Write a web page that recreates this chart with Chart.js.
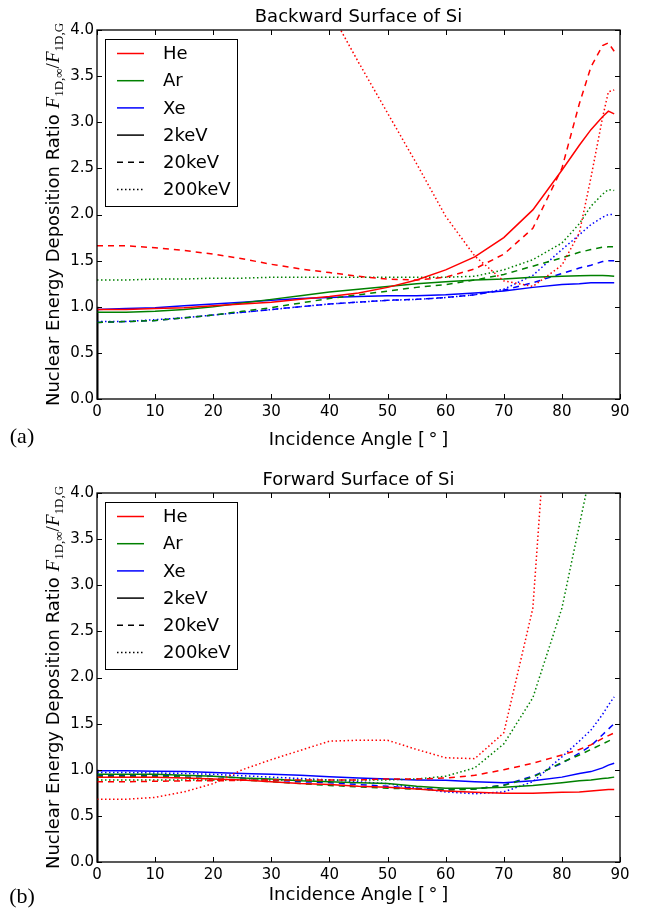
<!DOCTYPE html>
<html>
<head>
<meta charset="utf-8">
<script src="https://cdn.jsdelivr.net/npm/chart.js@4.4.1/dist/chart.umd.min.js"></script>
<style>
  html, body { margin: 0; padding: 0; background: #fff; }
  canvas { display: block; }
</style>
</head>
<body>
<canvas id="backChart" width="646" height="455"></canvas>
<canvas id="fwdChart" width="646" height="456"></canvas>
<script>
// Incidence angles (deg), shared by every curve
const angles = [0, 5, 10, 15, 20, 25, 30, 35, 40, 45, 50, 55, 60, 65, 70, 75, 80, 83, 85, 87, 88, 89];

// Backward surface of Si
const backHe2   = [0.97, 0.97, 0.98, 0.99, 1.01, 1.03, 1.05, 1.08, 1.11, 1.15, 1.21, 1.29, 1.40, 1.54, 1.75, 2.05, 2.48, 2.75, 2.92, 3.06, 3.12, 3.09];
const backHe20  = [1.66, 1.66, 1.64, 1.61, 1.57, 1.52, 1.46, 1.41, 1.37, 1.33, 1.30, 1.29, 1.32, 1.41, 1.57, 1.85, 2.50, 3.20, 3.60, 3.83, 3.86, 3.77];
const backHe200 = [null, null, null, null, null, null, null, null, 4.22, 3.65, 3.10, 2.55, 1.98, 1.55, 1.28, 1.22, 1.45, 1.80, 2.40, 3.05, 3.33, 3.35];
const backAr2   = [0.94, 0.94, 0.95, 0.97, 1.00, 1.04, 1.08, 1.12, 1.16, 1.19, 1.22, 1.25, 1.27, 1.29, 1.30, 1.32, 1.33, 1.335, 1.34, 1.34, 1.335, 1.33];
const backAr20  = [0.83, 0.84, 0.85, 0.88, 0.91, 0.95, 0.99, 1.04, 1.09, 1.13, 1.17, 1.21, 1.24, 1.29, 1.35, 1.44, 1.53, 1.59, 1.62, 1.645, 1.65, 1.65];
const backAr200 = [1.29, 1.29, 1.30, 1.30, 1.31, 1.31, 1.32, 1.32, 1.32, 1.32, 1.32, 1.32, 1.32, 1.33, 1.40, 1.51, 1.69, 1.90, 2.09, 2.22, 2.27, 2.26];
const backXe2   = [0.97, 0.98, 0.99, 1.01, 1.03, 1.05, 1.07, 1.09, 1.10, 1.11, 1.12, 1.12, 1.13, 1.15, 1.17, 1.21, 1.24, 1.25, 1.26, 1.26, 1.26, 1.26];
const backXe20  = [0.83, 0.84, 0.85, 0.88, 0.91, 0.94, 0.97, 1.00, 1.03, 1.05, 1.07, 1.08, 1.10, 1.13, 1.18, 1.26, 1.36, 1.42, 1.45, 1.49, 1.50, 1.50];
const backXe200 = [0.84, 0.84, 0.86, 0.88, 0.91, 0.94, 0.97, 1.00, 1.03, 1.05, 1.07, 1.08, 1.10, 1.13, 1.19, 1.34, 1.62, 1.78, 1.89, 1.97, 2.00, 2.00];

// Forward surface of Si
const fwdHe2   = [0.92, 0.92, 0.92, 0.91, 0.90, 0.89, 0.87, 0.85, 0.84, 0.82, 0.81, 0.79, 0.77, 0.755, 0.745, 0.745, 0.755, 0.76, 0.77, 0.78, 0.785, 0.785];
const fwdHe20  = [0.87, 0.87, 0.875, 0.88, 0.88, 0.885, 0.89, 0.89, 0.89, 0.89, 0.90, 0.90, 0.91, 0.94, 1.00, 1.07, 1.16, 1.22, 1.27, 1.34, 1.37, 1.40];
const fwdHe200 = [0.68, 0.68, 0.70, 0.76, 0.85, 1.00, 1.11, 1.21, 1.31, 1.32, 1.32, 1.22, 1.13, 1.12, 1.40, 2.75, 7.2, null, null, null, null, null];
const fwdAr2   = [0.95, 0.95, 0.95, 0.94, 0.93, 0.91, 0.90, 0.88, 0.87, 0.86, 0.85, 0.82, 0.80, 0.80, 0.81, 0.83, 0.86, 0.88, 0.89, 0.905, 0.91, 0.92];
const fwdAr20  = [0.93, 0.93, 0.93, 0.92, 0.90, 0.89, 0.87, 0.85, 0.83, 0.815, 0.80, 0.79, 0.78, 0.79, 0.83, 0.92, 1.08, 1.16, 1.22, 1.28, 1.31, 1.34];
const fwdAr200 = [0.89, 0.89, 0.89, 0.89, 0.89, 0.89, 0.89, 0.89, 0.89, 0.89, 0.89, 0.90, 0.93, 1.02, 1.28, 1.78, 2.75, 3.65, 4.25, null, null, null];
const fwdXe2   = [0.99, 0.99, 0.985, 0.98, 0.97, 0.96, 0.95, 0.94, 0.925, 0.91, 0.90, 0.89, 0.885, 0.87, 0.86, 0.88, 0.92, 0.96, 0.98, 1.02, 1.05, 1.07];
const fwdXe20  = [0.94, 0.94, 0.94, 0.935, 0.93, 0.91, 0.89, 0.87, 0.86, 0.84, 0.82, 0.80, 0.785, 0.79, 0.835, 0.93, 1.07, 1.18, 1.26, 1.38, 1.44, 1.50];
const fwdXe200 = [0.97, 0.97, 0.965, 0.96, 0.95, 0.935, 0.92, 0.905, 0.89, 0.87, 0.85, 0.80, 0.76, 0.74, 0.76, 0.87, 1.14, 1.31, 1.43, 1.60, 1.70, 1.79];

// legend entries
const legendLabels = ['He', 'Ar', 'Xe', '2keV', '20keV', '200keV'];

const RED = '#ff0000', GREEN = '#008000', BLUE = '#0000ff', BLACK = '#000000';
const DASH = [6, 5], DOT = [1.5, 2.5];
const legendColors = [RED, GREEN, BLUE, BLACK, BLACK, BLACK];
const legendDashes = [[], [], [], [], DASH, DOT];

function curve(values, color, dash) {
    return {
        data: angles.map((a, i) => ({ x: a, y: values[i] })),
        borderColor: color,
        borderDash: dash,
        borderWidth: 1.5,
        pointRadius: 0,
        fill: false,
        tension: 0
    };
}

// black 2keV legend line sits on the y axis from 0 to 1
function marker() {
    return {
        data: [{ x: 0, y: 0 }, { x: 0, y: 1.0 }],
        borderColor: BLACK,
        borderWidth: 3,
        pointRadius: 0,
        fill: false
    };
}

// frame, inward ticks, legend, titles
const decor = {
    id: 'decor',
    afterDatasetsDraw(chart, args, opts) {
        const { ctx, chartArea: a, scales: { x, y } } = chart;
        ctx.save();
        ctx.strokeStyle = '#000';
        ctx.lineWidth = 1;
        ctx.setLineDash([]);
        ctx.beginPath();
        x.ticks.forEach(t => {
            const px = Math.round(x.getPixelForValue(t.value)) + 0.5;
            ctx.moveTo(px, a.bottom); ctx.lineTo(px, a.bottom - 5);
            ctx.moveTo(px, a.top); ctx.lineTo(px, a.top + 5);
        });
        y.ticks.forEach(t => {
            const py = Math.round(y.getPixelForValue(t.value)) + 0.5;
            ctx.moveTo(a.left, py); ctx.lineTo(a.left + 5, py);
            ctx.moveTo(a.right, py); ctx.lineTo(a.right - 5, py);
        });
        ctx.stroke();
        ctx.lineWidth = 1.3;
        ctx.strokeRect(a.left, a.top, a.width, a.height);

        // legend box
        const lx = a.left + 8, ly = a.top + 9, lw = 132, lh = 167;
        ctx.fillStyle = '#fff';
        ctx.fillRect(lx, ly, lw, lh);
        ctx.lineWidth = 1;
        ctx.strokeRect(lx + 0.5, ly + 0.5, lw, lh);
        ctx.font = '18px "DejaVu Sans"';
        ctx.textBaseline = 'middle';
        ctx.textAlign = 'left';
        legendLabels.forEach((lab, i) => {
            const ry = ly + 14.5 + i * 27.2;
            ctx.strokeStyle = legendColors[i];
            ctx.lineWidth = 1.5;
            ctx.setLineDash(legendDashes[i]);
            ctx.beginPath();
            ctx.moveTo(lx + 12, ry); ctx.lineTo(lx + 39, ry);
            ctx.stroke();
            ctx.fillStyle = '#000';
            ctx.fillText(lab, lx + 58, ry + 1);
        });
        ctx.setLineDash([]);

        const cx = (a.left + a.right) / 2;
        ctx.fillStyle = '#000';
        ctx.textAlign = 'center';
        ctx.font = '18px "DejaVu Sans"';
        ctx.fillText(opts.title, cx, a.top - 13);
        ctx.fillText('Incidence Angle [\u2009\u00b0\u2009]', cx, a.bottom + opts.xlabelGap);
        ctx.font = '22px "Liberation Serif"';
        ctx.fillText(opts.tag, 22, a.bottom + opts.tagGap);

        // rotated y label with math part
        ctx.translate(53, (a.top + a.bottom) / 2);
        ctx.rotate(-Math.PI / 2);
        const parts = [
            ['18px "DejaVu Sans"', 'Nuclear Energy Deposition Ratio ', 0],
            ['italic 19px "Liberation Serif"', 'F', 0],
            ['13px "Liberation Serif"', '1D,\u221e', 4],
            ['19px "Liberation Serif"', '/', 0],
            ['italic 19px "Liberation Serif"', 'F', 0],
            ['13px "Liberation Serif"', '1D,G', 4]
        ];
        let w = 0;
        parts.forEach(p => { ctx.font = p[0]; w += ctx.measureText(p[1]).width; });
        let tx = -w / 2;
        ctx.textAlign = 'left';
        ctx.textBaseline = 'alphabetic';
        parts.forEach(p => {
            ctx.font = p[0];
            ctx.fillText(p[1], tx, 6 + p[2]);
            tx += ctx.measureText(p[1]).width;
        });
        ctx.restore();
    }
};

function makeChart(id, sets, opts) {
    const ctx = document.getElementById(id).getContext('2d');
    return new Chart(ctx, {
        type: 'line',
        data: {
            datasets: [
                curve(sets[0], RED, []), curve(sets[1], RED, DASH), curve(sets[2], RED, DOT),
                curve(sets[3], GREEN, []), curve(sets[4], GREEN, DASH), curve(sets[5], GREEN, DOT),
                curve(sets[6], BLUE, []), curve(sets[7], BLUE, DASH), curve(sets[8], BLUE, DOT),
                marker()
            ]
        },
        options: {
            responsive: false,
            animation: false,
            layout: { padding: { left: 0, right: 26, top: opts.top, bottom: 0 } },
            plugins: {
                legend: { display: false },
                title: { display: false },
                tooltip: { enabled: false },
                decor: opts
            },
            scales: {
                x: {
                    type: 'linear', min: 0, max: 90,
                    grid: { display: false, drawTicks: false },
                    border: { display: false },
                    ticks: { stepSize: 10, padding: 4, color: '#000', font: { family: 'DejaVu Sans', size: 15 } },
                    afterFit: s => { s.height = opts.xHeight; }
                },
                y: {
                    type: 'linear', min: 0, max: 4,
                    grid: { display: false, drawTicks: false },
                    border: { display: false },
                    ticks: { stepSize: 0.5, padding: 3, color: '#000', font: { family: 'DejaVu Sans', size: 15 },
                             callback: v => v.toFixed(1) },
                    afterFit: s => { s.width = 97; }
                }
            }
        },
        plugins: [decor]
    });
}

makeChart('backChart',
    [backHe2, backHe20, backHe200, backAr2, backAr20, backAr200, backXe2, backXe20, backXe200],
    { title: 'Backward Surface of Si', tag: '(a)', top: 30, xHeight: 56, xlabelGap: 41, tagGap: 38 });
makeChart('fwdChart',
    [fwdHe2, fwdHe20, fwdHe200, fwdAr2, fwdAr20, fwdAr200, fwdXe2, fwdXe20, fwdXe200],
    { title: 'Forward Surface of Si', tag: '(b)', top: 38, xHeight: 49, xlabelGap: 33, tagGap: 35 });
</script>
</body>
</html>
